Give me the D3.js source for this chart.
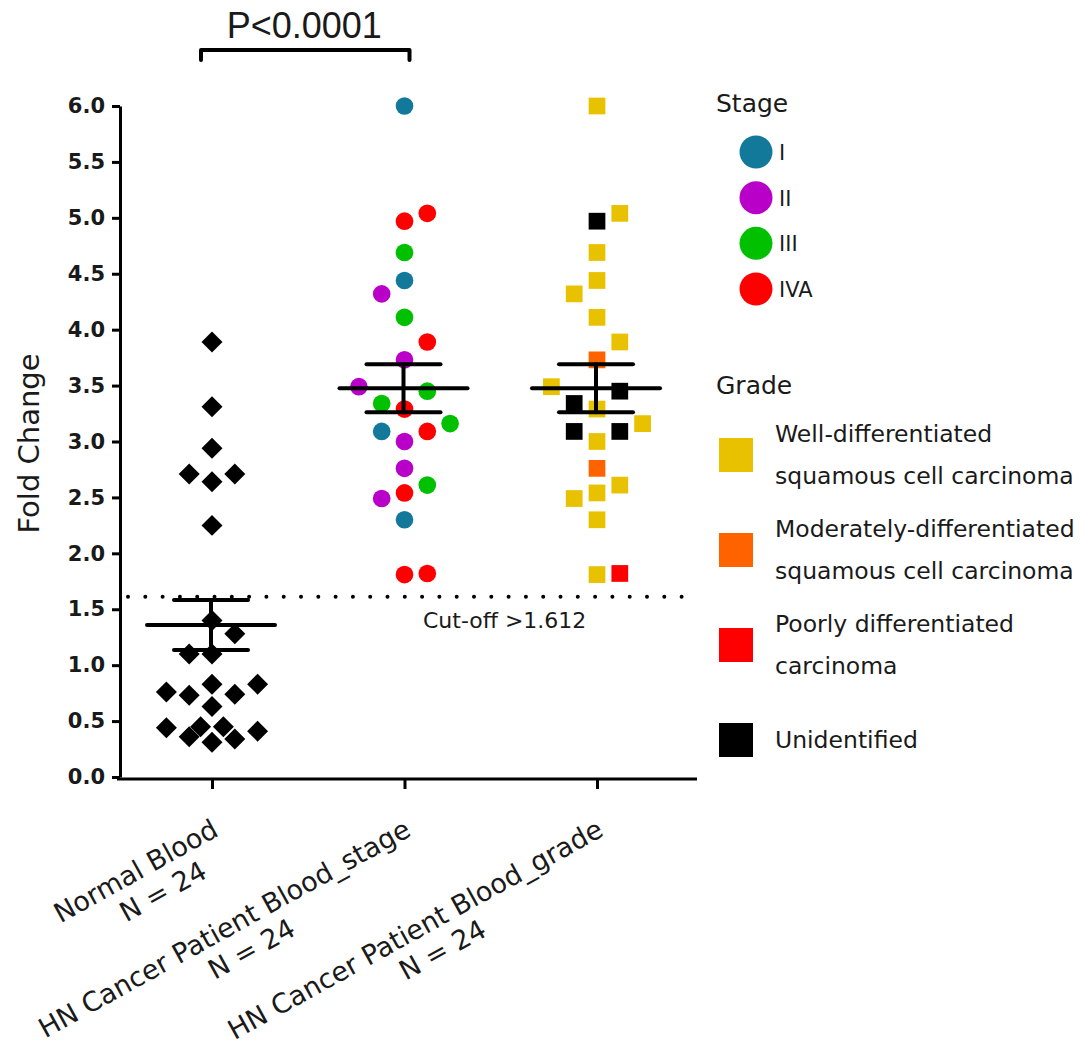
<!DOCTYPE html>
<html>
<head>
<meta charset="utf-8">
<script src="https://cdn.jsdelivr.net/npm/d3@7"></script>
<style>
  body { margin: 0; background: #fff; }
</style>
</head>
<body>
<script>
// groups on the x axis
const categories = ["Normal Blood", "HN Cancer Patient Blood_stage", "HN Cancer Patient Blood_grade"];
const groupN = ["N = 24", "N = 24", "N = 24"];

// normal blood fold change, and its column in the scatter (in lane units)
const normalValues = [3.89, 3.31, 2.94, 2.71, 2.71, 2.64, 2.25, 1.40, 1.28, 1.10, 1.10, 0.83,
                      0.83, 0.76, 0.73, 0.74, 0.63, 0.44, 0.45, 0.45, 0.36, 0.31, 0.34, 0.41];
const normalLane = [0, 0, 0, -1, 1, 0, 0, 0, 1, -1, 0, 0,
                    2, -2, -1, 1, 0, -2, -0.5, 0.5, -1, 0, 1, 2];

// HN cancer patients (same patients shown twice, coloured by stage and by grade)
const patientValues = [6.00, 5.04, 4.97, 4.69, 4.44, 4.32, 4.11, 3.89, 3.73, 3.49, 3.45, 3.34,
                       3.29, 3.16, 3.09, 3.09, 3.00, 2.76, 2.61, 2.54, 2.49, 2.30, 1.81, 1.82];
const patientLane = [0, 1, 0, 0, 0, -1, 0, 1, 0, -2, 1, -1,
                     0, 2, -1, 1, 0, 0, 1, 0, -1, 0, 0, 1];
const patientStage = ["I", "IVA", "IVA", "III", "I", "II", "III", "IVA", "II", "II", "III", "III",
                      "IVA", "III", "I", "IVA", "II", "II", "III", "IVA", "II", "I", "IVA", "IVA"];
const patientGrade = ["Well", "Well", "Unidentified", "Well", "Well", "Well", "Well", "Well", "Moderate", "Well", "Unidentified", "Unidentified",
                      "Well", "Well", "Unidentified", "Unidentified", "Well", "Moderate", "Well", "Well", "Well", "Well", "Well", "Poor"];

const stageNames = ["I", "II", "III", "IVA"];
const stageColors = ["#12799a", "#b900c9", "#00c000", "#ff0000"];
const gradeNames = ["Well", "Moderate", "Poor", "Unidentified"];
const gradeLabels = [
  ["Well-differentiated", "squamous cell carcinoma"],
  ["Moderately-differentiated", "squamous cell carcinoma"],
  ["Poorly differentiated", "carcinoma"],
  ["Unidentified"]
];
const gradeColors = ["#e8c100", "#ff6300", "#ff0000", "#000000"];

const yTicks = [0, 0.5, 1, 1.5, 2, 2.5, 3, 3.5, 4, 4.5, 5, 5.5, 6];
const cutoff = 1.612;
const cutoffLabel = "Cut-off >1.612";
const pLabel = "P<0.0001";

const width = 1087;
const height = 1046;
const font = "'DejaVu Sans', Verdana, sans-serif";

const svg = d3.select("body")
  .append("svg")
  .attr("width", width)
  .attr("height", height)
  .style("font-family", font);

const y = d3.scaleLinear().domain([0, 6]).range([777, 106]);
const x = d3.scalePoint().domain(categories).range([212, 597]);
const laneW = 22.8;
const axisX = 120;
const axisY = 779;

const stageColor = d3.scaleOrdinal().domain(stageNames).range(stageColors);
const gradeColor = d3.scaleOrdinal().domain(gradeNames).range(gradeColors);

// ---- y axis
const yAxis = svg.append("g")
  .attr("transform", `translate(${axisX},0)`)
  .call(d3.axisLeft(y).tickValues(yTicks).tickFormat(d3.format(".1f"))
    .tickSize(8).tickSizeOuter(0).tickPadding(7));
yAxis.select(".domain").attr("stroke-width", 3).attr("stroke", "#000");
yAxis.selectAll(".tick line").attr("stroke-width", 3).attr("stroke", "#000");
yAxis.selectAll(".tick text")
  .attr("font-family", font)
  .attr("font-size", 21)
  .attr("font-weight", "bold")
  .attr("fill", "#1a1a1a");

svg.append("text")
  .attr("transform", `translate(39,${(y(0) + y(6)) / 2 + 2}) rotate(-90)`)
  .attr("text-anchor", "middle")
  .attr("font-size", 29)
  .attr("fill", "#1a1a1a")
  .text("Fold Change");

// ---- x axis
svg.append("line")
  .attr("x1", axisX - 3).attr("x2", 697)
  .attr("y1", axisY).attr("y2", axisY)
  .attr("stroke", "#000").attr("stroke-width", 3);

const xAxis = svg.append("g")
  .attr("transform", `translate(0,${axisY})`)
  .call(d3.axisBottom(x).tickFormat("").tickSize(10).tickSizeOuter(0));
xAxis.select(".domain").remove();
xAxis.selectAll(".tick line").attr("stroke-width", 3).attr("stroke", "#000");

const xLabels = svg.append("g")
  .selectAll("g")
  .data(categories)
  .join("g")
  .attr("transform", d => `translate(${x(d) + 8},${axisY + 56}) rotate(-29)`)
  .attr("font-size", 27)
  .attr("fill", "#1a1a1a");

xLabels.append("text")
  .attr("class", "l1")
  .attr("text-anchor", "end")
  .text(d => d);

xLabels.each(function(d, i) {
  const g = d3.select(this);
  const w = g.select(".l1").node().getComputedTextLength();
  g.append("text")
    .attr("x", -w / 2 + 14)
    .attr("y", 31)
    .attr("text-anchor", "middle")
    .text(groupN[i]);
});

// ---- cut-off line
svg.append("line")
  .attr("x1", 128).attr("x2", 692)
  .attr("y1", y(cutoff)).attr("y2", y(cutoff))
  .attr("stroke", "#000")
  .attr("stroke-width", 4)
  .attr("stroke-linecap", "round")
  .attr("stroke-dasharray", "0 17.3");

svg.append("text")
  .attr("x", 423)
  .attr("y", y(cutoff) + 24)
  .attr("dominant-baseline", "central")
  .attr("font-size", 22)
  .attr("fill", "#1a1a1a")
  .text(cutoffLabel);

// ---- points
const normalData = normalValues.map((v, i) => ({ v, lane: normalLane[i] }));
const patientData = patientValues.map((v, i) => ({
  v, lane: patientLane[i], stage: patientStage[i], grade: patientGrade[i]
}));

svg.append("g")
  .selectAll("path")
  .data(normalData)
  .join("path")
  .attr("transform", d => `translate(${x(categories[0]) + d.lane * laneW},${y(d.v)}) rotate(45)`)
  .attr("d", d3.symbol(d3.symbolSquare, 220)())
  .attr("fill", "#000");

svg.append("g")
  .selectAll("path")
  .data(patientData)
  .join("path")
  .attr("transform", d => `translate(${x(categories[1]) + d.lane * laneW},${y(d.v)})`)
  .attr("d", d3.symbol(d3.symbolCircle, 245)())
  .attr("fill", d => stageColor(d.stage));

svg.append("g")
  .selectAll("path")
  .data(patientData)
  .join("path")
  .attr("transform", d => `translate(${x(categories[2]) + d.lane * laneW},${y(d.v)})`)
  .attr("d", d3.symbol(d3.symbolSquare, 280)())
  .attr("fill", d => gradeColor(d.grade));

// ---- mean and SEM
const groupValues = [normalValues, patientValues, patientValues];
const stats = groupValues.map((vals, i) => {
  const m = d3.mean(vals);
  const sem = d3.deviation(vals) / Math.sqrt(vals.length);
  return { cat: categories[i], mean: m, lo: m - sem, hi: m + sem };
});

const statG = svg.append("g")
  .attr("stroke", "#000")
  .attr("stroke-width", 4)
  .attr("stroke-linecap", "round");

stats.forEach(s => {
  const cx = x(s.cat) - 1;
  statG.append("line").attr("x1", cx - 64).attr("x2", cx + 64)
    .attr("y1", y(s.mean)).attr("y2", y(s.mean));
  statG.append("line").attr("x1", cx - 37).attr("x2", cx + 37)
    .attr("y1", y(s.hi)).attr("y2", y(s.hi));
  statG.append("line").attr("x1", cx - 37).attr("x2", cx + 37)
    .attr("y1", y(s.lo)).attr("y2", y(s.lo));
  statG.append("line").attr("x1", cx).attr("x2", cx)
    .attr("y1", y(s.hi)).attr("y2", y(s.lo));
});

// ---- significance bracket
svg.append("path")
  .attr("d", `M${x(categories[0]) - 11},60V50H${x(categories[1]) + 5}V60`)
  .attr("fill", "none")
  .attr("stroke", "#000")
  .attr("stroke-width", 4)
  .attr("stroke-linejoin", "round")
  .attr("stroke-linecap", "round");

svg.append("text")
  .attr("x", (x(categories[0]) + x(categories[1])) / 2 - 4)
  .attr("y", 38)
  .attr("text-anchor", "middle")
  .attr("font-family", "'Liberation Sans', Arial, sans-serif")
  .attr("font-size", 36)
  .attr("fill", "#1a1a1a")
  .text(pLabel);

// ---- legend: stage
const legend = svg.append("g").attr("fill", "#1a1a1a");

legend.append("text")
  .attr("x", 716).attr("y", 103)
  .attr("dominant-baseline", "central")
  .attr("font-size", 25)
  .text("Stage");

const stageRow = d3.scalePoint().domain(stageNames).range([152, 289]);

legend.selectAll(".stage-key")
  .data(stageNames)
  .join("path")
  .attr("class", "stage-key")
  .attr("transform", d => `translate(756,${stageRow(d)})`)
  .attr("d", d3.symbol(d3.symbolCircle, 855)())
  .attr("fill", d => stageColor(d));

legend.selectAll(".stage-label")
  .data(stageNames)
  .join("text")
  .attr("class", "stage-label")
  .attr("x", 779)
  .attr("y", d => stageRow(d) + 1)
  .attr("dominant-baseline", "central")
  .attr("font-size", 21)
  .text(d => d);

// ---- legend: grade
legend.append("text")
  .attr("x", 716).attr("y", 385)
  .attr("dominant-baseline", "central")
  .attr("font-size", 25)
  .text("Grade");

const gradeRow = d3.scalePoint().domain(gradeNames).range([455, 740]);

legend.selectAll(".grade-key")
  .data(gradeNames)
  .join("path")
  .attr("class", "grade-key")
  .attr("transform", d => `translate(736,${gradeRow(d)})`)
  .attr("d", d3.symbol(d3.symbolSquare, 1156)())
  .attr("fill", d => gradeColor(d));

gradeNames.forEach((g, i) => {
  const lines = gradeLabels[i];
  lines.forEach((t, j) => {
    const off = lines.length === 1 ? 0 : (j === 0 ? -21 : 21);
    legend.append("text")
      .attr("x", 775)
      .attr("y", gradeRow(g) + off)
      .attr("dominant-baseline", "central")
      .attr("font-size", 23.5)
      .text(t);
  });
});
</script>
</body>
</html>
